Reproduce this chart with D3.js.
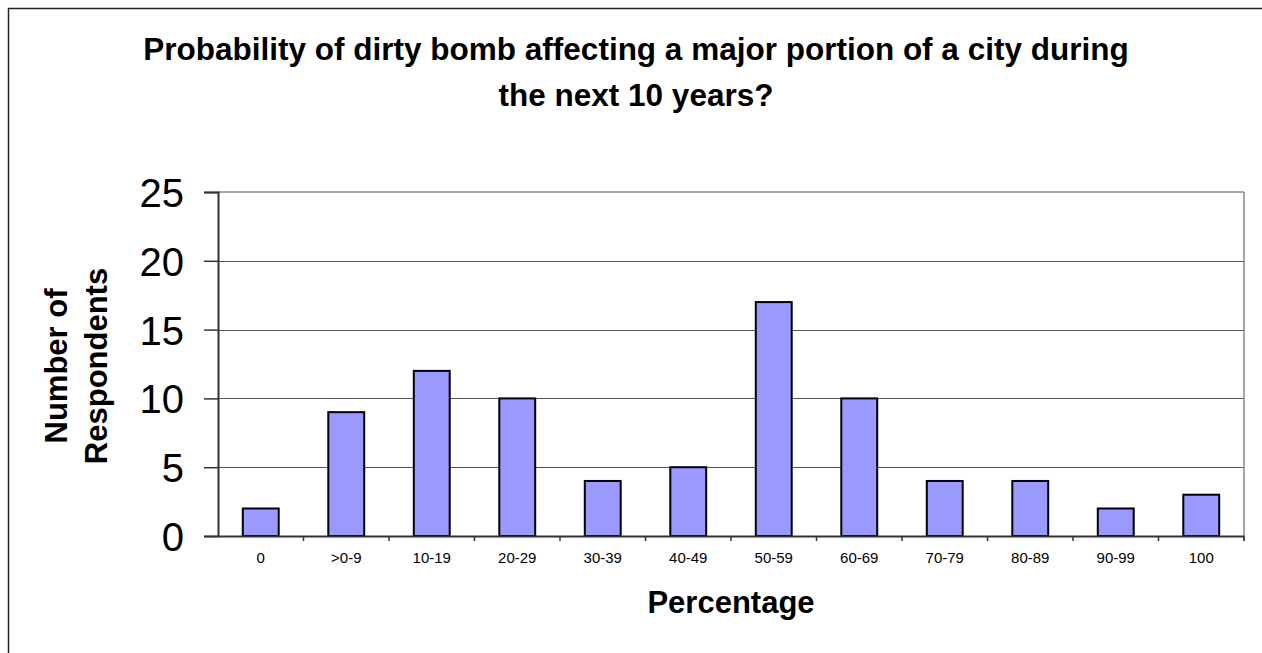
<!DOCTYPE html>
<html>
<head>
<meta charset="utf-8">
<script src="https://cdn.jsdelivr.net/npm/d3@7"></script>
<style>
  html, body { margin: 0; padding: 0; background: #fff; }
  svg { display: block; font-family: Arial, "Liberation Sans", sans-serif; }
</style>
</head>
<body>
<svg id="chart" width="1262" height="653"></svg>
<script>
const categories = ["0", ">0-9", "10-19", "20-29", "30-39", "40-49", "50-59", "60-69", "70-79", "80-89", "90-99", "100"];
const respondents = [2, 9, 12, 10, 4, 5, 17, 10, 4, 4, 2, 3];
const yTicks = [0, 5, 10, 15, 20, 25];
const titleLines = ["Probability of dirty bomb affecting a major portion of a city during", "the next 10 years?"];
const yTitleLines = ["Number of", "Respondents"];
const xTitle = "Percentage";

const svg = d3.select("#chart");
const plot = { left: 218, right: 1244, top: 192, bottom: 536 };

// outer chart border
svg.append("rect")
  .attr("x", 8.5).attr("y", 8.5)
  .attr("width", 1262).attr("height", 660)
  .attr("fill", "none").attr("stroke", "#222").attr("stroke-width", 1.5);

const x = d3.scaleBand().domain(categories).range([plot.left, plot.right]).padding(0);
const y = d3.scaleLinear().domain([0, 25]).range([plot.bottom, plot.top]);
const barW = x.bandwidth() * 0.42;

// gridlines
svg.append("g").selectAll("line").data(yTicks.filter(d => d > 0 && d < 25)).join("line")
  .attr("x1", plot.left).attr("x2", plot.right)
  .attr("y1", d => Math.round(y(d)) + 0.5).attr("y2", d => Math.round(y(d)) + 0.5)
  .attr("stroke", "#555").attr("stroke-width", 1);

// plot top & right border
svg.append("line").attr("x1", plot.left).attr("x2", plot.right).attr("y1", plot.top).attr("y2", plot.top)
  .attr("stroke", "#888").attr("stroke-width", 1.5);
svg.append("line").attr("x1", plot.right).attr("x2", plot.right).attr("y1", plot.top).attr("y2", plot.bottom + 5)
  .attr("stroke", "#888").attr("stroke-width", 1.5);

// bars
svg.append("g").selectAll("rect").data(categories).join("rect")
  .attr("x", (d) => x(d) + (x.bandwidth() - barW) / 2)
  .attr("y", (d, i) => y(respondents[i]))
  .attr("width", barW)
  .attr("height", (d, i) => y(0) - y(respondents[i]))
  .attr("fill", "#9999ff").attr("stroke", "#000").attr("stroke-width", 2);

// y axis
const yAxis = d3.axisLeft(y).tickValues(yTicks).tickSize(14).tickPadding(20).tickFormat(d3.format("d"));
const gy = svg.append("g").attr("transform", `translate(${plot.left},0)`).call(yAxis);
gy.select(".domain").attr("stroke", "#333").attr("stroke-width", 2);
gy.selectAll(".tick line").attr("stroke", "#333").attr("stroke-width", 1.5);
gy.selectAll(".tick text").attr("font-size", 40).attr("fill", "#000")
  .attr("font-family", "Arial, 'Liberation Sans', sans-serif").attr("dy", "0.36em");

// x axis
const xAxis = d3.axisBottom(x).tickSize(0).tickPadding(16);
const gx = svg.append("g").attr("transform", `translate(0,${plot.bottom})`).call(xAxis);
gx.select(".domain").attr("stroke", "#333").attr("stroke-width", 2);
gx.selectAll(".tick text").attr("font-size", 15).attr("fill", "#000")
  .attr("font-family", "Arial, 'Liberation Sans', sans-serif");
// category boundary ticks
gx.append("g").selectAll("line").data(categories.slice(1).concat(["__end"])).join("line")
  .attr("x1", d => d === "__end" ? plot.right : x(d))
  .attr("x2", d => d === "__end" ? plot.right : x(d))
  .attr("y1", 0).attr("y2", 5)
  .attr("stroke", "#333").attr("stroke-width", 1.5);

// title
svg.append("text").attr("text-anchor", "middle").attr("font-weight", "bold").attr("font-size", 31.5)
  .selectAll("tspan").data(titleLines).join("tspan")
  .attr("x", 636).attr("y", (d, i) => 60 + i * 46).text(d => d);

// y title
svg.append("text").attr("text-anchor", "middle").attr("font-weight", "bold").attr("font-size", 31)
  .attr("transform", "translate(0,366) rotate(-90)")
  .selectAll("tspan").data(yTitleLines).join("tspan")
  .attr("x", 0).attr("y", (d, i) => 67 + i * 40).text(d => d);

// x title
svg.append("text").attr("text-anchor", "middle").attr("font-weight", "bold").attr("font-size", 31)
  .attr("x", (plot.left + plot.right) / 2).attr("y", 613).text(xTitle);
</script>
</body>
</html>
